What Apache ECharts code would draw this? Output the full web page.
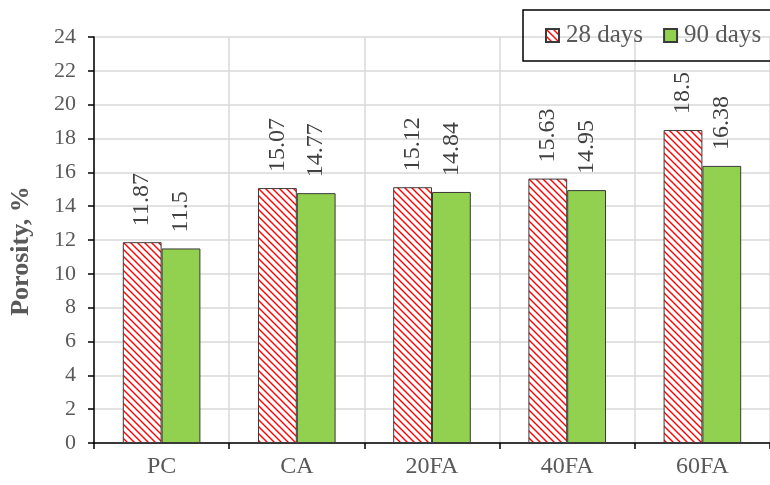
<!DOCTYPE html>
<html>
<head>
<meta charset="utf-8">
<script src="https://cdn.jsdelivr.net/npm/echarts@6/dist/echarts.min.js"></script>
<style>html,body{margin:0;padding:0;background:#fff;}#c{width:770px;height:485px;}</style>
</head>
<body>
<div id="c"></div>
<script>
const categories = ['PC', 'CA', '20FA', '40FA', '60FA'];
const days28 = [11.87, 15.07, 15.12, 15.63, 18.5];
const days90 = [11.5, 14.77, 14.84, 14.95, 16.38];
const seriesNames = ['28 days', '90 days'];

function hatchCanvas() {
  const s = 7;
  const c = document.createElement('canvas');
  c.width = s; c.height = s;
  const g = c.getContext('2d');
  g.fillStyle = '#ffffff';
  g.fillRect(0, 0, s, s);
  g.strokeStyle = '#ff0000';
  g.lineWidth = 1.4;
  g.beginPath();
  g.moveTo(-1, -1); g.lineTo(s + 1, s + 1);
  g.moveTo(-1 - s, -1); g.lineTo(1, s + 1);
  g.moveTo(s - 1, -1); g.lineTo(2 * s + 1, s + 1);
  g.stroke();
  return c;
}
const hatch = { image: hatchCanvas(), repeat: 'repeat' };
const font = '"Liberation Serif", "Times New Roman", serif';
const txt = '#595959';

const chart = echarts.init(document.getElementById('c'));
chart.setOption({
  animation: false,
  textStyle: { fontFamily: font },
  legend: {
    top: 10, left: 523, width: 300,
    orient: 'horizontal',
    padding: [13, 50, 13, 22],
    borderColor: '#000', borderWidth: 1.5,
    itemWidth: 13, itemHeight: 13, itemGap: 20,
    icon: 'rect',
    textStyle: { fontFamily: font, fontSize: 25, color: txt, padding: [0, 0, 0, 2] },
    data: seriesNames
  },
  grid: { left: 92, width: 680, top: 37, bottom: 42 },
  xAxis: {
    type: 'category',
    data: categories,
    axisLine: { lineStyle: { color: '#000', width: 1.5 } },
    axisTick: { show: true, length: 6, lineStyle: { color: '#000', width: 1.5 } },
    splitLine: { show: true, lineStyle: { color: '#d9d9d9', width: 1.5 } },
    axisLabel: { fontFamily: font, fontSize: 24, color: txt, margin: 12 }
  },
  yAxis: {
    type: 'value', min: 0, max: 24, interval: 2,
    name: 'Porosity, %', nameLocation: 'middle', nameGap: 60,
    nameTextStyle: { fontFamily: font, fontSize: 26, fontWeight: 'bold', color: txt, padding: [0, 22, 0, 0] },
    axisLine: { show: true, lineStyle: { color: '#000', width: 1.5 } },
    axisTick: { show: true, length: 6, lineStyle: { color: '#000', width: 1.5 } },
    splitLine: { lineStyle: { color: '#d9d9d9', width: 1.5 } },
    axisLabel: { fontFamily: font, fontSize: 22, color: txt, margin: 18 }
  },
  series: [
    {
      name: seriesNames[0], type: 'bar', data: days28,
      barGap: '0%', barCategoryGap: '42.6%',
      itemStyle: { color: hatch, borderColor: '#3a3a3a', borderWidth: 1 },
      label: { show: true, position: 'top', rotate: 90, align: 'left', verticalAlign: 'middle',
        distance: 16, fontFamily: font, fontSize: 24, color: '#404040' }
    },
    {
      name: seriesNames[1], type: 'bar', data: days90,
      itemStyle: { color: '#92d050', borderColor: '#3a3a3a', borderWidth: 1 },
      label: { show: true, position: 'top', rotate: 90, align: 'left', verticalAlign: 'middle',
        distance: 16, fontFamily: font, fontSize: 24, color: '#404040' }
    }
  ]
});
</script>
</body>
</html>
